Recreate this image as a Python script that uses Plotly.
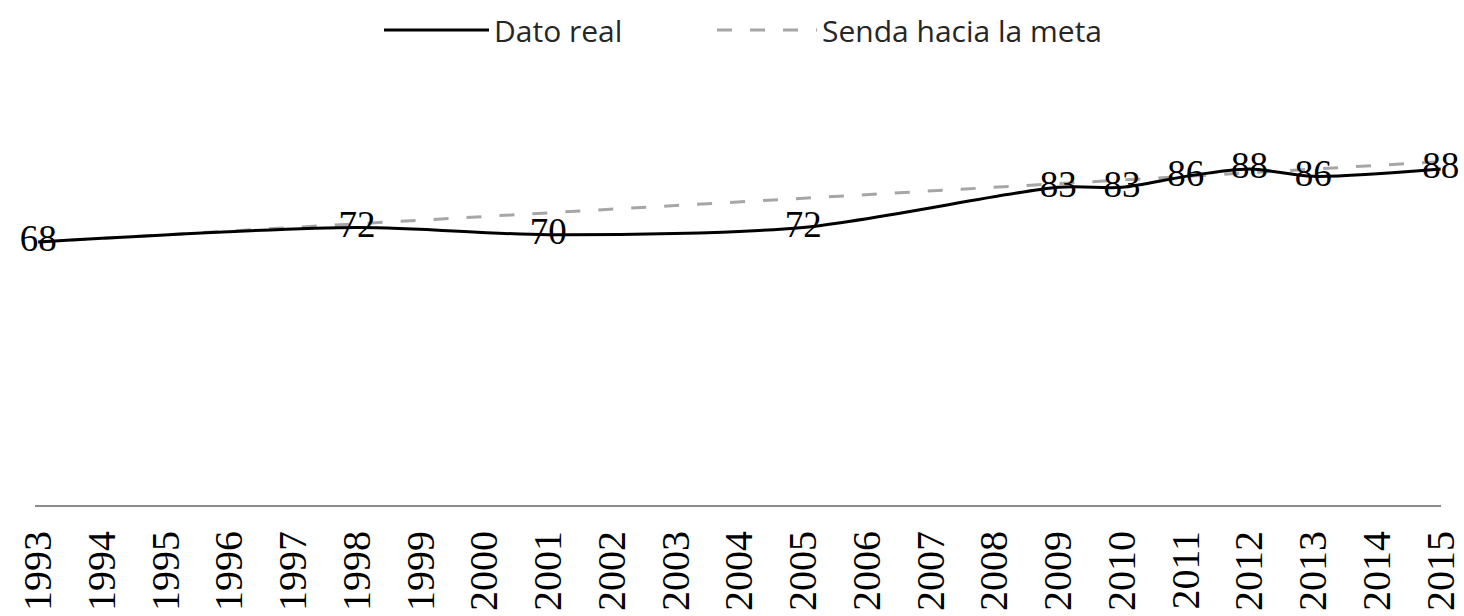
import plotly.graph_objects as go

years = [str(y) for y in range(1993, 2016)]

# "Dato real" (None = no value that year)
dato_real = [68, None, None, None, None, 72, None, None, 70, None, None, None,
             72, None, None, None, 83, 83, 86, 88, 86, None, 88]

# "Senda hacia la meta" (straight path towards the target)
senda = [68, 69, 70, 71, 72, 73, 74, 75, 76, 77, 78, 79,
         80, 81, 82, 83, 84, 85, 86, 87, 88, 89, 90]

labels = [str(v) if v is not None else "" for v in dato_real]

fig = go.Figure()

fig.add_trace(go.Scatter(
    x=years, y=senda, name="Senda hacia la meta", mode="lines",
    line=dict(color="#A6A6A6", width=3, dash="15px,18px"),
    legend="legend2", hoverinfo="skip",
))

fig.add_trace(go.Scatter(
    x=years, y=dato_real, name="Dato real", mode="lines+text",
    text=labels, textposition="middle center",
    textfont=dict(family="Liberation Serif", size=37, color="#000000"),
    line=dict(color="#000000", width=3, shape="spline", smoothing=0.8),
    connectgaps=True, cliponaxis=False, legend="legend",
))

legend_font = dict(family="Open Sans", size=30, color="#262626")

fig.update_layout(
    width=1464, height=616,
    paper_bgcolor="white", plot_bgcolor="white",
    margin=dict(l=35, r=23, t=60, b=111),
    showlegend=True,
    legend=dict(
        orientation="h", xref="container", yref="container",
        x=379 / 1464, y=1 - 30 / 616, xanchor="left", yanchor="middle",
        font=legend_font, itemwidth=105, bgcolor="rgba(0,0,0,0)",
    ),
    legend2=dict(
        orientation="h", xref="container", yref="container",
        x=712 / 1464, y=1 - 30 / 616, xanchor="left", yanchor="middle",
        font=legend_font, itemwidth=100, bgcolor="rgba(0,0,0,0)",
    ),
    xaxis=dict(
        type="category", range=[-0.05, 22.005], automargin=False,
        showgrid=False, zeroline=False,
        showline=True, linecolor="#8C8C8C", linewidth=2,
        ticks="", tickangle=-90,
        tickfont=dict(family="Liberation Serif", size=40, color="#000000"),
        ticklabelstandoff=8,
    ),
    yaxis=dict(
        range=[-4.1, 117.9], visible=False, showgrid=False, zeroline=False,
        automargin=False,
    ),
)

fig.write_html(
    "out.html",
    config={"displayModeBar": False},
    post_script="document.body.style.margin='0';",
)
